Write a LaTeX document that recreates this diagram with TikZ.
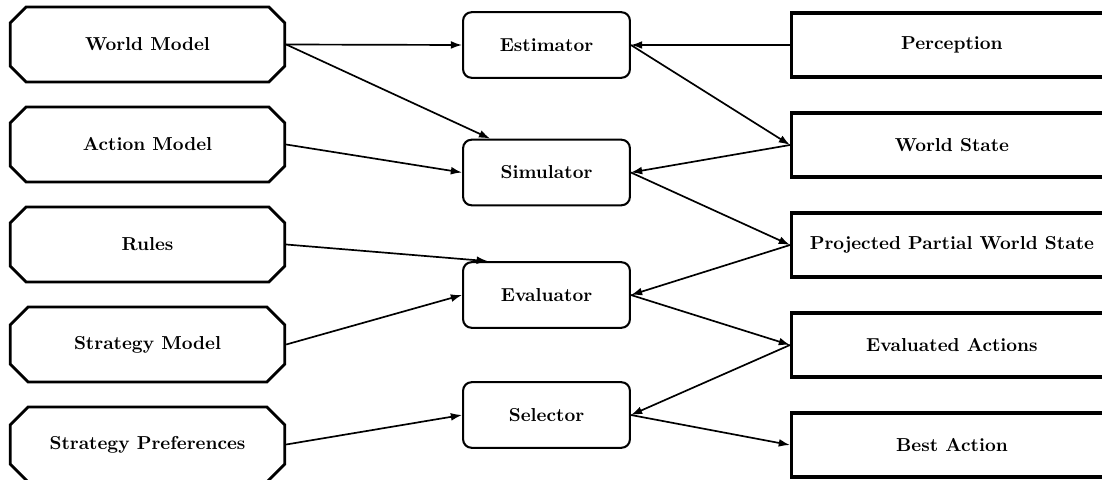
\documentclass[tikz,border=0pt]{standalone}
\usetikzlibrary{shapes.misc,arrows.meta}
\begin{document}
\begin{tikzpicture}[x=0.5336pt,y=-0.5336pt,
  leftbox/.style={chamfered rectangle, chamfered rectangle xsep=6pt, chamfered rectangle ysep=5pt,
    draw, line width=1.5pt, minimum width=146.5pt, minimum height=40pt, inner sep=0pt, font=\bfseries},
  midbox/.style={rectangle, rounded corners=4.5pt, draw, line width=1.1pt,
    minimum width=89pt, minimum height=35pt, inner sep=0pt, font=\bfseries},
  rightbox/.style={rectangle, draw, line width=1.8pt, minimum width=171pt,
    minimum height=34pt, inner sep=0pt, font=\bfseries},
  conn/.style={line width=0.9pt, -{Latex[length=6pt,width=4.2pt]}}]
\useasboundingbox (0,0) rectangle (1102,480);
% left column
\node[leftbox] (wm) at (147.5,44.5) {World Model};
\node[leftbox] (am) at (147.5,144.5) {Action Model};
\node[leftbox] (ru) at (147.5,244.5) {Rules};
\node[leftbox] (sm) at (147.5,344.5) {Strategy Model};
\node[leftbox] (sp) at (147.5,444.5) {Strategy Preferences};
% middle column
\node[midbox] (est) at (546.5,45) {Estimator};
\node[midbox] (sim) at (546.5,172.5) {Simulator};
\node[midbox] (ev) at (546.5,295) {Evaluator};
\node[midbox] (sel) at (546.5,415) {Selector};
% right column
\node[rightbox, anchor=west] (perc) at (790,45) {Perception};
\node[rightbox, anchor=west] (ws) at (790,145) {World State};
\node[rightbox, anchor=west] (pp) at (790,245) {Projected Partial World State};
\node[rightbox, anchor=west] (ea) at (790,345) {Evaluated Actions};
\node[rightbox, anchor=west] (ba) at (790,445) {Best Action};
% connectors
\draw[conn] (wm.east) -- (est.west);
\draw[conn] (wm.east) -- (sim.149);
\draw[conn] (am.east) -- (sim.west);
\draw[conn] (ru.east) -- (ev.150);
\draw[conn] (sm.east) -- (ev.west);
\draw[conn] (sp.east) -- (sel.west);
\draw[conn] (perc.west) -- (est.east);
\draw[conn] (est.east) -- (ws.west);
\draw[conn] (ws.west) -- (sim.east);
\draw[conn] (sim.east) -- (pp.west);
\draw[conn] (pp.west) -- (ev.east);
\draw[conn] (ev.east) -- (ea.west);
\draw[conn] (ea.west) -- (sel.east);
\draw[conn] (sel.east) -- (ba.west);
\end{tikzpicture}
\end{document}
